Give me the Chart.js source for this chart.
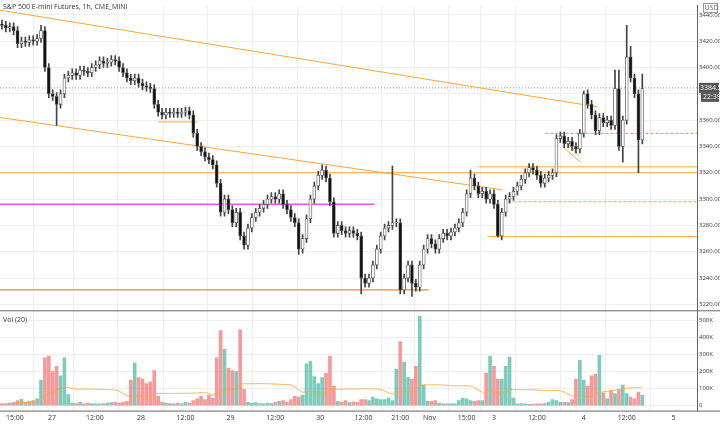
<!DOCTYPE html>
<html>
<head>
<meta charset="utf-8">
<script src="https://cdn.jsdelivr.net/npm/chart.js@4.4.0/dist/chart.umd.min.js"></script>
<style>
  html, body { margin: 0; padding: 0; background: #fff; }
  #wrap { width: 720px; height: 425px; }
</style>
</head>
<body>
<div id="wrap"><canvas id="chart-area"></canvas></div>
<script>
// hourly closes
const closes = [3432,3430,3431,3428,3418,3420,3419,3421,3420,3422,
  3428,3400,3380,3378,3372,3380,3392,3394,3396,3394,
  3398,3397,3396,3400,3402,3405,3403,3404,3406,3405,
  3400,3396,3392,3390,3392,3388,3386,3385,3384,3372,
  3366,3364,3366,3365,3366,3365,3366,3367,3364,3350,
  3340,3336,3332,3330,3326,3312,3290,3300,3292,3282,
  3290,3272,3265,3278,3286,3290,3293,3296,3300,3302,
  3300,3304,3296,3292,3286,3282,3262,3270,3285,3300,
  3310,3318,3322,3316,3298,3274,3280,3276,3274,3276,
  3274,3272,3240,3236,3240,3250,3262,3272,3278,3280,
  3282,3282,3231,3240,3250,3236,3233,3250,3262,3270,
  3266,3262,3270,3274,3272,3275,3278,3282,3290,3304,
  3316,3310,3304,3306,3300,3304,3296,3272,3290,3300,
  3302,3306,3310,3315,3320,3324,3322,3318,3312,3316,
  3318,3320,3346,3348,3342,3344,3340,3338,3350,3380,
  3372,3364,3352,3362,3358,3360,3356,3384,3340,3360,
  3408,3392,3380,3345,3384];
const firstOpen = 3433;
// notable wick extremes (index: [high, low])
const wicks = {10:[3432,null],14:[null,3356],62:[null,3262],76:[null,3258],82:[3326,null],
  92:[null,3228],100:[3325,null],105:[null,3226],120:[3322,null],127:[null,3271],
  149:[3382,null],157:[3398,null],158:[3398,3337],159:[null,3328],160:[3432,null],
  161:[3416,null],163:[null,3320],164:[3395,null]};
const wickDefault = 3;
// volume in thousands
const volumes = [10,10,15,20,30,37,20,25,30,40,
  150,280,290,200,230,175,280,65,15,12,
  20,10,15,12,10,10,12,15,18,20,
  15,20,25,150,250,165,155,130,140,205,
  55,20,15,12,10,15,10,20,15,30,
  40,55,35,60,45,280,440,330,220,205,
  200,445,95,20,15,18,12,10,15,12,
  20,25,30,20,35,55,50,60,245,260,
  170,130,165,190,290,115,25,20,30,18,
  22,20,35,35,30,50,40,35,35,45,
  30,215,375,255,165,155,230,525,120,25,
  25,30,15,10,10,12,10,30,45,40,
  30,25,30,30,190,290,230,155,155,230,
  285,45,10,12,10,8,8,10,10,12,
  20,35,30,20,20,18,35,155,265,150,
  115,175,185,295,75,40,90,70,95,120,
  70,50,40,80,60];
const tickPos = [3.3,12.8,23.8,35.6,47,58.5,70,81.5,92.6,102,109.5,119,126,137,149,160,172];
const tickLabels = ['15:00','27','12:00','28','12:00','29','12:00','30','12:00','21:00','Nov','15:00','3','12:00','4','12:00','5'];
const priceTicks = [3220,3240,3260,3280,3300,3320,3340,3360,3380,3400,3420,3440];
const volTicks = [0, 100000, 200000, 300000, 400000, 500000];
const lastPrice = 3384.5;

const opens = closes.map((c, i) => i === 0 ? firstOpen : closes[i - 1]);
const bodies = [], wickBars = [], bodyColors = [], volBars = [], volColors = [];
closes.forEach((c, i) => {
  const o = opens[i];
  const w = wicks[i] || [];
  const hi = w[0] != null ? w[0] : Math.max(o, c) + wickDefault;
  const lo = w[1] != null ? w[1] : Math.min(o, c) - wickDefault;
  const up = c >= o;
  bodies.push({ x: i, y: up ? [o, c === o ? c + 0.6 : c] : [c, o] });
  wickBars.push({ x: i, y: [lo, hi] });
  bodyColors.push(up ? '#ffffff' : '#111111');
  volBars.push({ x: i, y: volumes[i] * 1000 });
  volColors.push(up ? 'rgba(83,185,166,0.75)' : 'rgba(242,120,120,0.75)');
});
const volMA = volumes.map((v, i) => {
  const s = volumes.slice(Math.max(0, i - 19), i + 1);
  return { x: i, y: s.reduce((a, b) => a + b, 0) / s.length * 1000 };
});

const orange = '#f7a738';
function seg(points, color, dash, width) {
  return { type: 'line', data: points.map(p => ({ x: p[0], y: p[1] })), yAxisID: 'y',
    borderColor: color, borderWidth: width || 1, borderDash: dash || [], pointRadius: 0, order: 5 };
}

const tags = {
  id: 'tags',
  afterDraw(chart) {
    const c = chart.ctx, y = chart.scales.y, yv = chart.scales.yv, a = chart.chartArea;
    c.save();
    c.font = '7px "Open Sans"';
    c.fillStyle = '#333';
    c.textBaseline = 'top';
    c.fillText('S&P 500 E-mini Futures, 1h, CME_MINI', 3, 3);
    c.fillText('Vol (20)', 3, yv.top + 4);
    c.strokeStyle = '#666'; c.lineWidth = 1;
    c.beginPath(); c.moveTo(0, yv.top - 1.5); c.lineTo(720, yv.top - 1.5); c.stroke();
    c.beginPath(); c.moveTo(0, a.bottom + 0.5); c.lineTo(720, a.bottom + 0.5); c.stroke();
    const py = y.getPixelForValue(lastPrice);
    c.fillStyle = '#555';
    c.fillRect(a.right + 2, py - 5, 20, 10);
    c.fillStyle = '#fff';
    c.textBaseline = 'middle';
    c.fillText('3384.50', a.right + 3, py);
    c.fillStyle = '#555';
    c.fillRect(a.right + 4, py + 5, 18, 9);
    c.fillStyle = '#fff';
    c.fillText('22:39', a.right + 6, py + 9.5);
    c.strokeStyle = '#999';
    c.strokeRect(a.right + 6.5, 3.5, 14, 9);
    c.fillStyle = '#666';
    c.fillText('USD', a.right + 7.5, 8);
    c.restore();
  }
};

const ctx = document.getElementById('chart-area').getContext('2d');
new Chart(ctx, {
  data: {
    datasets: [
      seg([[-0.5, 3443.5], [152.6, 3370]], orange),
      seg([[-0.5, 3362], [128.2, 3307]], orange),
      seg([[-0.5, 3320], [178, 3320]], orange),
      seg([[122, 3324.5], [178, 3324.5]], orange),
      seg([[-0.5, 3296], [95.4, 3296]], '#ee55ee', [], 1.5),
      seg([[-0.5, 3231], [109.3, 3231]], '#f08a24', [], 1.2),
      seg([[129.7, 3298], [178, 3298]], orange, [3, 2], 1.2),
      seg([[124.4, 3271.5], [178, 3271.5]], orange),
      seg([[139.2, 3350], [178, 3350]], orange, [3, 2], 1.2),
      seg([[40, 3358.6], [50, 3358.6]], orange),
      seg([[143, 3349], [147.7, 3333]], orange),
      seg([[143.5, 3340], [148.2, 3328]], orange),
      seg([[-0.5, lastPrice], [178, lastPrice]], '#999', [1, 2]),
      { type: 'bar', data: wickBars, yAxisID: 'y', backgroundColor: '#444', barThickness: 1, grouped: false, order: 2 },
      { type: 'bar', data: bodies, yAxisID: 'y', backgroundColor: bodyColors, borderColor: '#555', borderWidth: 0.8, borderSkipped: false, barThickness: 3, grouped: false, order: 1 },
      { type: 'bar', data: volBars, yAxisID: 'yv', backgroundColor: volColors, barThickness: 3, grouped: false, order: 3 },
      { type: 'line', data: volMA, yAxisID: 'yv', borderColor: 'rgba(247,167,56,0.8)', borderWidth: 1, pointRadius: 0, order: 0 }
    ]
  },
  options: {
    responsive: true,
    maintainAspectRatio: false,
    animation: { duration: 0 },
    events: [],
    layout: { padding: 0 },
    plugins: { legend: { display: false }, tooltip: { enabled: false } },
    scales: {
      x: {
        type: 'linear', min: -0.5, max: 178, offset: false,
        grid: { color: '#eeeeee', drawTicks: false },
        border: { display: false },
        afterBuildTicks: s => { s.ticks = tickPos.map(v => ({ value: v })); },
        ticks: { font: { size: 7, family: 'Open Sans' }, color: '#333', padding: 3, maxRotation: 0, autoSkip: false,
          callback: (v, i) => tickLabels[i] }
      },
      y: {
        type: 'linear', position: 'right', stack: 'p', stackWeight: 3.12, min: 3214, max: 3447,
        grid: { color: '#eeeeee', drawTicks: false },
        border: { color: '#666' },
        afterBuildTicks: s => { s.ticks = priceTicks.map(v => ({ value: v })); },
        afterFit: s => { s.width = 23; },
        ticks: { font: { size: 6, family: 'Open Sans' }, color: '#333', padding: 2, autoSkip: false,
          callback: v => v.toFixed(2) }
      },
      yv: {
        type: 'linear', position: 'right', stack: 'p', stackWeight: 1, min: -29000, max: 547000,
        grid: { color: '#eeeeee', drawTicks: false },
        border: { color: '#666' },
        afterBuildTicks: s => { s.ticks = volTicks.map(v => ({ value: v })); },
        afterFit: s => { s.width = 23; },
        ticks: { font: { size: 6, family: 'Open Sans' }, color: '#333', padding: 2, autoSkip: false,
          callback: v => v === 0 ? '0' : (v / 1000) + 'K' }
      }
    }
  },
  plugins: [tags]
});
</script>
</body>
</html>
